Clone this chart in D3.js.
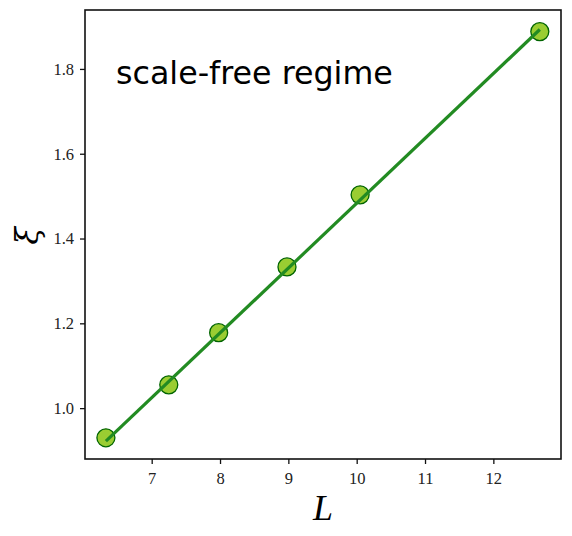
<!DOCTYPE html>
<html>
<head>
<meta charset="utf-8">
<script src="https://cdn.jsdelivr.net/npm/d3@7"></script>
<style>
body { margin: 0; background: #ffffff; }
.tick text { font-family: "Liberation Serif", "DejaVu Serif", serif; font-size: 16.5px; fill: #222; }
</style>
</head>
<body>
<script>
// data
var sizes = [6.33, 7.25, 7.98, 8.98, 10.05, 12.68];
var xiValues = [0.93, 1.055, 1.178, 1.333, 1.503, 1.888];
// fitted line, its two ends
var fitL = [6.33, 12.68];
var fitXi = [0.922, 1.893];
var xTicks = [7, 8, 9, 10, 11, 12];
var yTicks = [1.0, 1.2, 1.4, 1.6, 1.8];

var width = 572, height = 536;
var margin = {top: 10, right: 11, bottom: 77, left: 85};

var svg = d3.select("body").append("svg")
    .attr("width", width)
    .attr("height", height);

var x = d3.scaleLinear()
    .domain([6.024, 12.99])
    .range([margin.left, width - margin.right]);

var y = d3.scaleLinear()
    .domain([0.88, 1.939])
    .range([height - margin.bottom, margin.top]);

// axes
svg.append("g")
    .attr("transform", "translate(0," + (height - margin.bottom) + ")")
    .call(d3.axisBottom(x).tickValues(xTicks).tickSize(5).tickPadding(8).tickFormat(d3.format("d")));

svg.append("g")
    .attr("transform", "translate(" + margin.left + ",0)")
    .call(d3.axisLeft(y).tickValues(yTicks).tickSize(5).tickPadding(6).tickFormat(d3.format(".1f")));

svg.selectAll(".domain").remove();
svg.selectAll(".tick line").attr("stroke", "#111").attr("stroke-width", 1.3);

// frame
svg.append("rect")
    .attr("x", margin.left)
    .attr("y", margin.top)
    .attr("width", width - margin.left - margin.right)
    .attr("height", height - margin.top - margin.bottom)
    .attr("fill", "none")
    .attr("stroke", "#111")
    .attr("stroke-width", 1.6);

// points
svg.selectAll("circle")
    .data(sizes)
    .enter()
    .append("circle")
    .attr("cx", function (d) { return x(d); })
    .attr("cy", function (d, i) { return y(xiValues[i]); })
    .attr("r", 9)
    .attr("fill", "#9acd32")
    .attr("stroke", "#006400")
    .attr("stroke-width", 1.3);

// fit line on top of the dots
var line = d3.line()
    .x(function (d, i) { return x(fitL[i]); })
    .y(function (d) { return y(d); });

svg.append("path")
    .datum(fitXi)
    .attr("d", line)
    .attr("fill", "none")
    .attr("stroke", "#228b22")
    .attr("stroke-width", 3.2);

// labels
svg.append("text")
    .attr("x", 116)
    .attr("y", 84)
    .attr("font-family", "DejaVu Sans, sans-serif")
    .attr("font-size", 31.7)
    .attr("fill", "#000")
    .text("scale-free regime");

svg.append("text")
    .attr("x", 323)
    .attr("y", 520)
    .attr("text-anchor", "middle")
    .attr("font-family", "Liberation Serif, serif")
    .attr("font-style", "italic")
    .attr("font-size", 36)
    .text("L");

svg.append("text")
    .attr("transform", "translate(38,236) rotate(-90)")
    .attr("text-anchor", "middle")
    .attr("font-family", "DejaVu Serif, serif")
    .attr("font-style", "italic")
    .attr("font-size", 32)
    .text("ξ");
</script>
</body>
</html>
